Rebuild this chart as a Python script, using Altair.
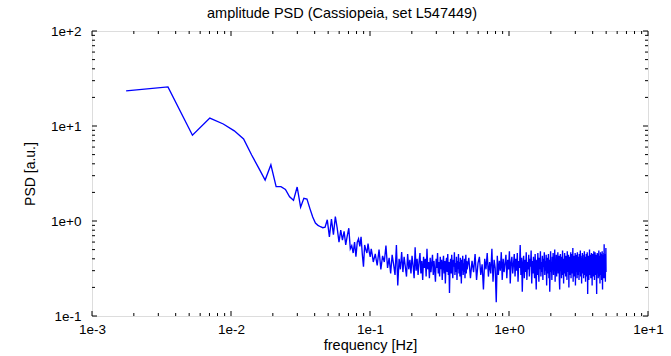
import altair as alt
import pandas as pd

TITLE = "amplitude PSD (Cassiopeia, set L547449)"
X_TITLE = "frequency [Hz]"
Y_TITLE = "PSD [a.u.]"

# frequency resolution of the spectrum [Hz]
DF = 0.00176

# bins 1..60, every bin
psd_low = [
    23.4, 25.8, 8.0, 12.1, 10.5, 8.9, 7.3, 4.95, 3.6, 2.7,
    3.9, 2.3, 2.3, 2.15, 1.8, 1.65, 2.28, 1.4, 1.73, 1.7,
    1.35, 1.1, 0.95, 0.9, 0.87, 0.85, 0.86, 1.03, 0.68, 1.05,
    0.72, 1.11, 0.84, 0.6, 0.8, 0.63, 0.78, 0.56, 0.7, 0.84,
    0.51, 0.55, 0.46, 0.6, 0.42, 0.6, 0.65, 0.54, 0.68, 0.45,
    0.33, 0.56, 0.5, 0.46, 0.58, 0.48, 0.42, 0.51, 0.44, 0.37,
]

# bins 62..284, every second bin
psd_mid = [
    0.45, 0.34, 0.5, 0.31, 0.43, 0.37, 0.55, 0.32, 0.41, 0.28,
    0.44, 0.35, 0.27, 0.56, 0.21, 0.4, 0.31, 0.47, 0.29, 0.42,
    0.33, 0.26, 0.45, 0.31, 0.39, 0.28, 0.43, 0.34, 0.25, 0.53,
    0.3, 0.4, 0.27, 0.37, 0.46, 0.28, 0.38, 0.24, 0.42, 0.32,
    0.4, 0.26, 0.51, 0.31, 0.37, 0.25, 0.41, 0.29, 0.36, 0.44,
    0.27, 0.38, 0.3, 0.23, 0.4, 0.32, 0.46, 0.28, 0.37, 0.26,
    0.42, 0.31, 0.39, 0.24, 0.35, 0.43, 0.28, 0.38, 0.22, 0.36,
    0.41, 0.29, 0.45, 0.27, 0.37, 0.175, 0.34, 0.4, 0.28, 0.44,
    0.31, 0.25, 0.39, 0.33, 0.47, 0.27, 0.36, 0.29, 0.42, 0.24,
    0.38, 0.31, 0.45, 0.28, 0.37, 0.26, 0.41, 0.32, 0.22, 0.39,
    0.3, 0.43, 0.27, 0.36, 0.29, 0.4, 0.25, 0.35, 0.44, 0.28,
    0.38, 0.31,
]

# bins 292..2836, every eighth bin
psd_high = [
    0.41, 0.25, 0.38, 0.29, 0.45, 0.24, 0.36, 0.42, 0.27, 0.35,
    0.19, 0.4, 0.31, 0.46, 0.26, 0.37, 0.28, 0.51, 0.23, 0.39,
    0.32, 0.14, 0.43, 0.27, 0.38, 0.3, 0.47, 0.24, 0.4, 0.29,
    0.36, 0.44, 0.25, 0.39, 0.31, 0.48, 0.22, 0.37, 0.42, 0.28,
    0.35, 0.45, 0.26, 0.4, 0.3, 0.46, 0.23, 0.38, 0.32, 0.56,
    0.27, 0.41, 0.18, 0.36, 0.43, 0.25, 0.39, 0.29, 0.47, 0.24,
    0.37, 0.31, 0.44, 0.26, 0.4, 0.33, 0.49, 0.22, 0.38, 0.28,
    0.42, 0.32, 0.25, 0.45, 0.3, 0.19, 0.39, 0.27, 0.46, 0.34,
    0.23, 0.41, 0.31, 0.48, 0.26, 0.37, 0.29, 0.43, 0.24, 0.4,
    0.33, 0.47, 0.27, 0.38, 0.3, 0.44, 0.21, 0.36, 0.41, 0.28,
    0.45, 0.25, 0.39, 0.18, 0.32, 0.48, 0.29, 0.37, 0.24, 0.42,
    0.31, 0.46, 0.27, 0.4, 0.33, 0.5, 0.23, 0.38, 0.29, 0.44,
    0.26, 0.41, 0.32, 0.47, 0.28, 0.37, 0.43, 0.24, 0.19, 0.39,
    0.45, 0.3, 0.36, 0.25, 0.42, 0.33, 0.49, 0.27, 0.38, 0.22,
    0.4, 0.31, 0.46, 0.28, 0.37, 0.26, 0.43, 0.33, 0.41, 0.24,
    0.48, 0.29, 0.39, 0.32, 0.44, 0.2, 0.36, 0.42, 0.27, 0.38,
    0.31, 0.47, 0.25, 0.4, 0.33, 0.45, 0.28, 0.37, 0.52, 0.23,
    0.39, 0.3, 0.43, 0.26, 0.41, 0.34, 0.46, 0.21, 0.38, 0.29,
    0.44, 0.32, 0.4, 0.25, 0.47, 0.31, 0.37, 0.27, 0.42, 0.33,
    0.24, 0.45, 0.29, 0.39, 0.34, 0.49, 0.26, 0.41, 0.31, 0.38,
    0.22, 0.43, 0.33, 0.46, 0.28, 0.4, 0.3, 0.37, 0.25, 0.44,
    0.32, 0.48, 0.27, 0.39, 0.34, 0.42, 0.23, 0.38, 0.29, 0.45,
    0.31, 0.4, 0.26, 0.47, 0.33, 0.17, 0.37, 0.43, 0.28, 0.41,
    0.24, 0.39, 0.32, 0.5, 0.27, 0.38, 0.3, 0.44, 0.34, 0.25,
    0.42, 0.33, 0.46, 0.28, 0.4, 0.21, 0.37, 0.45, 0.31, 0.39,
    0.26, 0.43, 0.34, 0.48, 0.29, 0.38, 0.24, 0.41, 0.32, 0.47,
    0.27, 0.4, 0.33, 0.44, 0.3, 0.37, 0.23, 0.17, 0.42, 0.34,
    0.46, 0.28, 0.39, 0.31, 0.45, 0.25, 0.41, 0.33, 0.49, 0.26,
    0.38, 0.3, 0.43, 0.34, 0.22, 0.4, 0.32, 0.47, 0.27, 0.37,
    0.42, 0.29, 0.45, 0.24, 0.39, 0.33, 0.48, 0.28, 0.19, 0.41,
    0.31, 0.44, 0.26, 0.4, 0.34, 0.46, 0.25, 0.57, 0.3, 0.43,
    0.27, 0.38, 0.45, 0.33, 0.23, 0.41, 0.32, 0.52, 0.29,
]

# axis decades
x_decades = [1e-3, 1e-2, 1e-1, 1e0, 1e1]
y_decades = [1e-1, 1e0, 1e1, 1e2]

bins = list(range(1, 61)) + list(range(62, 285, 2)) + list(range(292, 2837, 8))
psd = psd_low + psd_mid + psd_high
data = pd.DataFrame({"f": [b * DF for b in bins], "p": psd})


def minor_ticks(decades):
    return [m * d for d in decades[:-1] for m in range(2, 10)]


x_major = pd.DataFrame({"v": x_decades})
x_minor = pd.DataFrame({"v": minor_ticks(x_decades)})
y_major = pd.DataFrame({"v": y_decades})
y_minor = pd.DataFrame({"v": minor_ticks(y_decades)})

W, H = 556, 285
MAJ, MIN = 5, 3
FONT = "Liberation Sans"

label_expr = ("'1e' + (log(datum.value) / LN10 > -0.5 ? '+' : '') "
              "+ round(log(datum.value) / LN10)")

x_scale = alt.Scale(type="log", domain=[x_decades[0], x_decades[-1]], nice=False)
y_scale = alt.Scale(type="log", domain=[y_decades[0], y_decades[-1]], nice=False)

x_axis = alt.Axis(
    values=x_decades, labelExpr=label_expr, title=X_TITLE,
    grid=False, ticks=False, domain=False, labelPadding=6,
    labelFontSize=13.5, labelFont=FONT, labelColor="black",
    titleFontSize=14.5, titleFont=FONT, titleFontWeight="normal", titleColor="black",
    titleY=29, titleBaseline="middle", labelFlush=False,
)
y_axis = alt.Axis(
    values=y_decades, labelExpr=label_expr, title=Y_TITLE,
    grid=False, ticks=False, domain=False, labelPadding=11,
    labelFontSize=13.5, labelFont=FONT, labelColor="black",
    titleFontSize=14, titleFont=FONT, titleFontWeight="normal", titleColor="black",
    titleX=-62, titleY=H / 2, titleAngle=-90, titleAlign="center",
    titleBaseline="middle", labelFlush=False,
)

X = alt.X("f:Q", scale=x_scale, axis=x_axis)
Y = alt.Y("p:Q", scale=y_scale, axis=y_axis)

spectrum = alt.Chart(data).mark_line(color="#0000ff", strokeWidth=1.35).encode(x=X, y=Y)


def xticks(df, length):
    enc_x = alt.X("v:Q", scale=x_scale, axis=x_axis)
    bottom = alt.Chart(df).mark_rule(color="black").encode(
        x=enc_x, y=alt.value(H), y2=alt.value(H - length))
    top = alt.Chart(df).mark_rule(color="black").encode(
        x=enc_x, y=alt.value(0), y2=alt.value(length))
    return [bottom, top]


def yticks(df, length):
    enc_y = alt.Y("v:Q", scale=y_scale, axis=y_axis)
    left = alt.Chart(df).mark_rule(color="black").encode(
        y=enc_y, x=alt.value(0), x2=alt.value(length))
    right = alt.Chart(df).mark_rule(color="black").encode(
        y=enc_y, x=alt.value(W), x2=alt.value(W - length))
    return [left, right]


layers = (
    [spectrum]
    + xticks(x_major, MAJ) + xticks(x_minor, MIN)
    + yticks(y_major, MAJ) + yticks(y_minor, MIN)
)

chart = (
    alt.layer(*layers)
    .properties(
        width=W, height=H,
        title=alt.TitleParams(TITLE, fontSize=14.5, font=FONT, fontWeight="normal",
                              color="black", anchor="middle", offset=3, dx=-28),
        autosize=alt.AutoSizeParams(type="none"),
        padding={"left": 92, "top": 31, "right": 23, "bottom": 40},
    )
    .configure_view(stroke="black", strokeWidth=1)
    .configure(background="white")
)

chart.save("out.html", embed_options={"renderer": "svg", "actions": False})
